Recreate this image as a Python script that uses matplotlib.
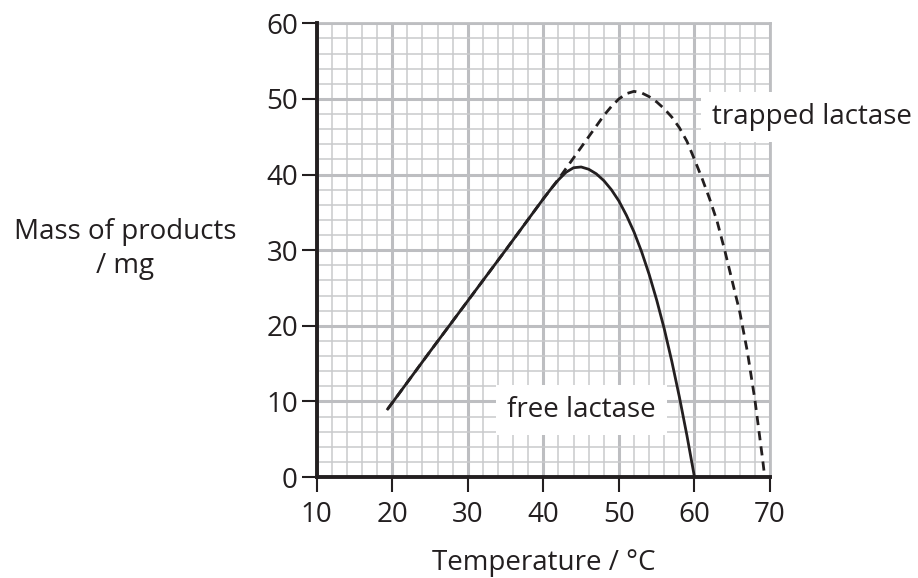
import matplotlib
matplotlib.use("Agg")
import matplotlib.pyplot as plt

plt.rcParams['font.family'] = ['Open Sans', 'DejaVu Sans']

# ---- data ----
free_temp = [19.4, 25, 30, 35, 40, 41, 42, 43, 44, 45, 46, 47, 48, 49, 50, 51,
             52, 53, 54, 55, 56, 57, 58, 59, 60]
free_mass = [9.0, 16.6, 23.3, 30.0, 36.8, 38.1, 39.3, 40.3, 40.9, 41.0, 40.7, 40.1,
             39.2, 38.0, 36.5, 34.6, 32.4, 29.8, 26.8, 23.4, 19.6, 15.3, 10.6, 5.5, 0.0]

trapped_temp = [19.4, 25, 30, 35, 40, 41, 42, 43, 44, 45, 46, 47, 48, 49, 50, 51,
                52, 53, 54, 55, 56, 57, 58, 59, 60, 61, 62, 63, 64, 65, 66, 67,
                68, 69, 69.3]
trapped_mass = [9.0, 16.6, 23.3, 30.0, 36.8, 38.1, 39.4, 40.8, 42.2, 43.6, 45.0,
                46.4, 47.8, 49.0, 50.0, 50.7, 51.0, 50.8, 50.3, 49.6, 48.7, 47.6,
                46.2, 44.4, 42.0, 39.5, 36.8, 33.8, 30.0, 25.9, 21.8, 16.6, 10.2,
                2.5, 0.0]

x_ticks = [10, 20, 30, 40, 50, 60, 70]
y_ticks = [0, 10, 20, 30, 40, 50, 60]
x_minor = list(range(10, 71, 2))
y_minor = list(range(0, 61, 2))

ink = '#231f20'
major_grid = '#bdbec1'
minor_grid = '#c9cacc'
fs = 20

fig = plt.figure(figsize=(9.18, 5.78), dpi=100)
ax = fig.add_axes([0.345, 0.1747, 0.4938, 0.785])

ax.set_xlim(10, 70)
ax.set_ylim(0, 60)
ax.set_xticks(x_ticks)
ax.set_yticks(y_ticks)
ax.set_xticks(x_minor, minor=True)
ax.set_yticks(y_minor, minor=True)
ax.set_axisbelow(True)
ax.grid(which='minor', color=minor_grid, linewidth=1.1)
ax.grid(which='major', color=major_grid, linewidth=2.2)

for s in ['top', 'right']:
    ax.spines[s].set_color(major_grid)
    ax.spines[s].set_linewidth(2.0)
for s in ['left', 'bottom']:
    ax.spines[s].set_color(ink)
    ax.spines[s].set_linewidth(2.8)
    ax.spines[s].set_zorder(5)

ax.tick_params(which='major', direction='out', length=10.5, width=1.5,
               color=ink, labelsize=fs, labelcolor=ink)
ax.tick_params(which='minor', length=0)
ax.tick_params(axis='x', pad=7)
ax.tick_params(axis='y', pad=3)

ax.plot(trapped_temp, trapped_mass, color=ink, lw=2.0, ls=(0, (3.3, 2.2)),
        zorder=4, dash_capstyle='butt')
ax.plot(free_temp, free_mass, color=ink, lw=2.0, zorder=4,
        solid_joinstyle='round')

ax.text(75.5, 47.6, 'trapped lactase', fontsize=fs, color=ink, ha='center',
        va='center', clip_on=False, zorder=3,
        bbox=dict(boxstyle='square,pad=0.4', fc='white', ec='none'))
ax.text(45.0, 8.9, 'free lactase', fontsize=fs, color=ink, ha='center',
        va='center', zorder=3,
        bbox=dict(boxstyle='square,pad=0.4', fc='white', ec='none'))

ax.set_xlabel('Temperature / °C', fontsize=fs, color=ink, labelpad=14)
fig.text(125 / 918, 1 - 249 / 578, 'Mass of products\n/ mg', fontsize=fs,
         color=ink, ha='center', va='center', linespacing=1.3)

fig.savefig('out.png', dpi=100)
